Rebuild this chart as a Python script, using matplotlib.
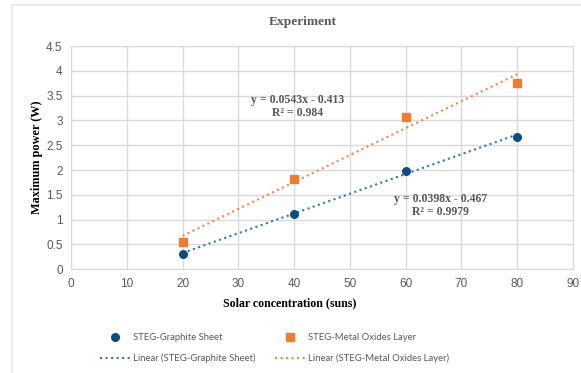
import numpy as np
import matplotlib.pyplot as plt
from matplotlib.lines import Line2D
from matplotlib.patches import Rectangle

# solar concentration (suns) and measured max power (W)
suns = [20, 40, 60, 80]
graphite = [0.31, 1.12, 1.98, 2.67]
metal_oxide = [0.56, 1.81, 3.06, 3.76]

# trendline coefficients as printed on the chart
fit_graphite = (0.0398, -0.467, 0.9979)
fit_metal = (0.0543, -0.413, 0.984)

blue = '#0f4c81'
blue_line = '#2e75b6'
orange = '#ed7d31'
orange_line = '#f4863b'
grey_txt = '#595959'
grid_c = '#d9d9d9'

serif = 'Liberation Serif'
sans = 'Liberation Sans'

fig = plt.figure(figsize=(5.81, 3.73), dpi=100)
fig.patches.append(Rectangle((12/581, -0.1), 1.2, 1 - 5/373 + 0.1,
                             transform=fig.transFigure, fill=False,
                             edgecolor='#e6e6e6', linewidth=1.2))

ax = fig.add_axes([71/581, 1 - 269.3/373, 502/581, 223.3/373])

x = np.array(suns)
ax.plot(x, fit_graphite[0]*x + fit_graphite[1], ls=':', color=blue_line, lw=1.5)
ax.plot(x, fit_metal[0]*x + fit_metal[1], ls=':', color=orange_line, lw=1.5)
ax.scatter(suns, graphite, marker='o', s=30, color=blue, zorder=3)
ax.scatter(suns, metal_oxide, marker='s', s=28, color=orange, zorder=3)

ax.set_xlim(0, 90)
ax.set_ylim(0, 4.5)
ax.set_xticks(np.arange(0, 91, 10))
ax.set_yticks(np.arange(0, 4.6, 0.5))
ax.set_yticklabels(['0', '0.5', '1', '1.5', '2', '2.5', '3', '3.5', '4', '4.5'])
ax.grid(True, color=grid_c, lw=1)
ax.set_axisbelow(True)
for s in ax.spines.values():
    s.set_color(grid_c)
ax.tick_params(length=0, labelsize=8.5, labelcolor=grey_txt, pad=6)
for lab in ax.get_xticklabels() + ax.get_yticklabels():
    lab.set_fontfamily(sans)

ax.set_ylabel('Maximum power (W)', fontfamily=serif, fontweight='bold',
              fontsize=8.8, labelpad=2)
fig.text(290/581, 1 - 303/373, 'Solar concentration (suns)', ha='center', va='center',
         fontfamily=serif, fontweight='bold', fontsize=8.6)
fig.text(302.5/581, 1 - 22/373, 'Experiment', ha='center', va='center',
         fontfamily=serif, fontweight='bold', fontsize=9.6, color=grey_txt)

ax.text(40.7, 3.28, 'y = %.4fx - %.3f\nR² = %.3f' % (fit_metal[0], -fit_metal[1], fit_metal[2]),
        ha='center', va='center', fontfamily=serif, fontweight='bold',
        fontsize=8.5, color=grey_txt, linespacing=1.1)
ax.text(66.2, 1.29, 'y = %.4fx - %.3f\nR² = %.4f' % (fit_graphite[0], -fit_graphite[1], fit_graphite[2]),
        ha='center', va='center', fontfamily=serif, fontweight='bold',
        fontsize=8.5, color=grey_txt, linespacing=1.1)

handles = [
    Line2D([], [], marker='o', ls='', color=blue, markersize=5.5),
    Line2D([], [], ls=':', color=blue_line, lw=1.5),
    Line2D([], [], marker='s', ls='', color=orange, markersize=5.5),
    Line2D([], [], ls=':', color=orange_line, lw=1.5),
]
labels = ['STEG-Graphite Sheet', 'Linear (STEG-Graphite Sheet)',
          'STEG-Metal Oxides Layer', 'Linear (STEG-Metal Oxides Layer)']
leg = fig.legend(handles, labels, ncol=2, loc='center', bbox_to_anchor=(274.5/581, 1 - 348/373),
                 frameon=False, prop={'family': ['Lato', 'DejaVu Sans'], 'size': 6.8},
                 handlelength=3.2, handletextpad=0.3, columnspacing=2.0, labelspacing=1.25)
for t in leg.get_texts():
    t.set_color(grey_txt)

fig.savefig('out.png', dpi=100)
